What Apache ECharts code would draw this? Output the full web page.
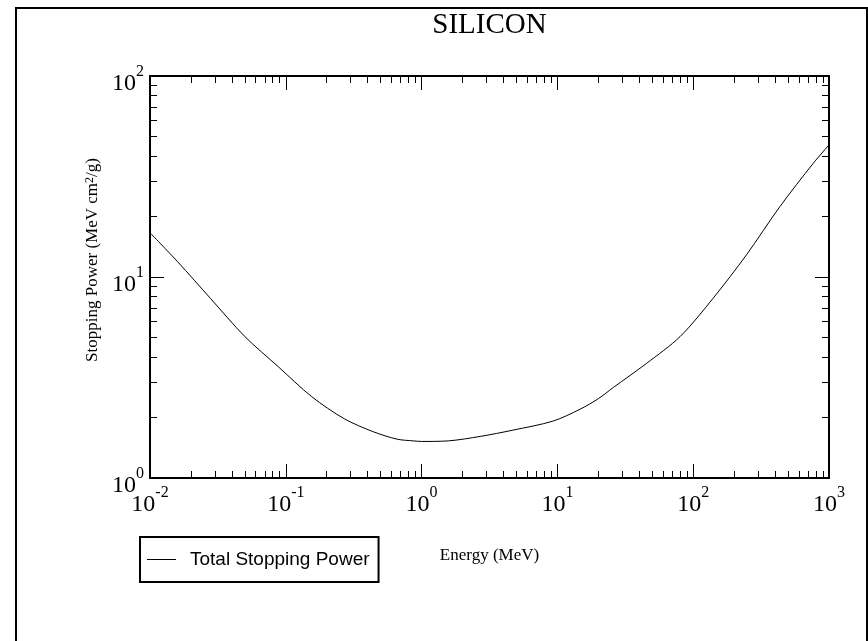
<!DOCTYPE html>
<html>
<head>
<meta charset="utf-8">
<script src="https://cdn.jsdelivr.net/npm/echarts@6/dist/echarts.min.js"></script>
<style>
html,body{margin:0;padding:0;background:#fff;}
#chart{width:868px;height:641px;}
</style>
</head>
<body>
<div id="chart"></div>
<script>
// ---- data ----
var energyMeV = [0.01, 0.016, 0.028, 0.05, 0.088, 0.155, 0.27, 0.44, 0.66, 0.87, 1.0, 1.57, 2.7, 4.7, 9.3, 14.7, 20, 25.8, 45.4, 80, 140, 247, 435, 766, 1000];
var stoppingPower = [16.6, 11.9, 7.8, 5.05, 3.58, 2.54, 1.97, 1.70, 1.56, 1.53, 1.52, 1.53, 1.61, 1.73, 1.92, 2.2, 2.48, 2.82, 3.72, 5.05, 7.83, 12.9, 22.4, 36.8, 45.4];
var seriesName = 'Total Stopping Power';
var titleText = 'SILICON';
var xAxisTitle = 'Energy (MeV)';
var yAxisTitle = 'Stopping Power (MeV cm{sup|2}/g)';
var xMajorTicks = [0.01, 0.1, 1, 10, 100, 1000];
var yMajorTicks = [1, 10, 100];
var minorMultipliers = [2, 3, 4, 5, 6, 7, 8, 9];

function minorsOf(majors) {
  var out = [];
  for (var i = 0; i < majors.length - 1; i++) {
    for (var j = 0; j < minorMultipliers.length; j++) {
      out.push(+(majors[i] * minorMultipliers[j]).toPrecision(6));
    }
  }
  return out;
}
var xMinorTicks = minorsOf(xMajorTicks);
var yMinorTicks = minorsOf(yMajorTicks);

var seriesData = energyMeV.map(function (e, i) { return [e, stoppingPower[i]]; });

var SERIF = '"Liberation Serif", "Times New Roman", serif';
var SANS = '"Liberation Sans", Arial, sans-serif';

function powLabel(v) {
  var exp = Math.round(Math.log10(v));
  return '{b|10}{s|' + exp + '}';
}
var powRich = {
  b: { fontFamily: SERIF, fontSize: 24, color: '#000', lineHeight: 24, padding: [8, 0, 0, 0], verticalAlign: 'top' },
  s: { fontFamily: SERIF, fontSize: 16, color: '#000', lineHeight: 16, verticalAlign: 'top' }
};

var frameLine = { show: true, lineStyle: { color: '#000', width: 2 } };

function majorAxis(gridIndex, position, ticks, withLabels, extra) {
  var a = {
    type: 'log', logBase: 10, gridIndex: gridIndex, position: position,
    min: ticks[0], max: ticks[ticks.length - 1],
    axisLine: frameLine,
    axisTick: { show: true, inside: true, length: 14, customValues: ticks, lineStyle: { color: '#000', width: 1 } },
    axisLabel: withLabels ? {
      show: true, customValues: ticks, formatter: powLabel, rich: powRich,
      showMinLabel: true, showMaxLabel: true
    } : { show: false },
    splitLine: { show: false },
    minorTick: { show: false },
    minorSplitLine: { show: false }
  };
  for (var k in extra) a[k] = extra[k];
  return a;
}
function minorAxis(gridIndex, position, majors, minors) {
  return {
    type: 'log', logBase: 10, gridIndex: gridIndex, position: position,
    min: majors[0], max: majors[majors.length - 1],
    axisLine: { show: false },
    axisTick: { show: true, inside: true, length: 7, customValues: minors, lineStyle: { color: '#000', width: 1 } },
    axisLabel: { show: false },
    splitLine: { show: false }
  };
}

var gridBox = { left: 150, top: 76, width: 679, height: 402, containLabel: false };

var option = {
  animation: false,
  backgroundColor: '#fff',
  grid: [gridBox, Object.assign({}, gridBox)],
  graphic: [{
    type: 'rect', silent: true, z: -10,
    shape: { x: 16, y: 8, width: 851, height: 700 },
    style: { fill: null, stroke: '#000', lineWidth: 2 }
  }],
  legend: {
    data: [{ name: seriesName, icon: 'rect' }],
    left: 140, top: 537,
    orient: 'horizontal',
    backgroundColor: '#fff',
    borderColor: '#000', borderWidth: 2, borderRadius: 0,
    padding: [13, 9, 13, 7],
    itemWidth: 29, itemHeight: 1,
    itemStyle: { color: '#000' },
    textStyle: { fontFamily: SANS, fontSize: 19, color: '#000', padding: [0, 0, 0, 9] }
  },
  xAxis: [
    majorAxis(0, 'bottom', xMajorTicks, true, {
      name: xAxisTitle, nameLocation: 'middle', nameGap: 69,
      axisLabel: {
        show: true, customValues: xMajorTicks, formatter: powLabel, rich: powRich,
        margin: 7, showMinLabel: true, showMaxLabel: true
      },
      nameTextStyle: { fontFamily: SERIF, fontSize: 17, color: '#000' }
    }),
    majorAxis(0, 'top', xMajorTicks, false, {
      name: titleText, nameLocation: 'middle', nameGap: 36,
      nameTextStyle: { fontFamily: SERIF, fontSize: 29, color: '#000' }
    }),
    minorAxis(1, 'bottom', xMajorTicks, xMinorTicks),
    minorAxis(1, 'top', xMajorTicks, xMinorTicks)
  ],
  yAxis: [
    majorAxis(0, 'left', yMajorTicks, true, {
      name: yAxisTitle, nameLocation: 'middle', nameGap: 42, nameRotate: 90,
      axisLabel: {
        show: true, customValues: yMajorTicks, formatter: powLabel, rich: powRich,
        margin: 6, showMinLabel: true, showMaxLabel: true
      },
      nameTextStyle: {
        fontFamily: SERIF, fontSize: 17, color: '#000', padding: [0, 0, 0, 34],
        rich: { sup: { fontFamily: SERIF, fontSize: 12, color: '#000', verticalAlign: 'top', lineHeight: 12 } }
      }
    }),
    majorAxis(0, 'right', yMajorTicks, false, {}),
    minorAxis(1, 'left', yMajorTicks, yMinorTicks),
    minorAxis(1, 'right', yMajorTicks, yMinorTicks)
  ],
  series: [{
    name: seriesName,
    type: 'line',
    xAxisIndex: 0, yAxisIndex: 0,
    data: seriesData,
    symbol: 'none',
    smooth: 0.3,
    lineStyle: { color: '#000', width: 1 },
    itemStyle: { color: '#000' }
  }]
};

var chart = echarts.init(document.getElementById('chart'), null, { renderer: 'canvas' });
chart.setOption(option);
</script>
</body>
</html>
